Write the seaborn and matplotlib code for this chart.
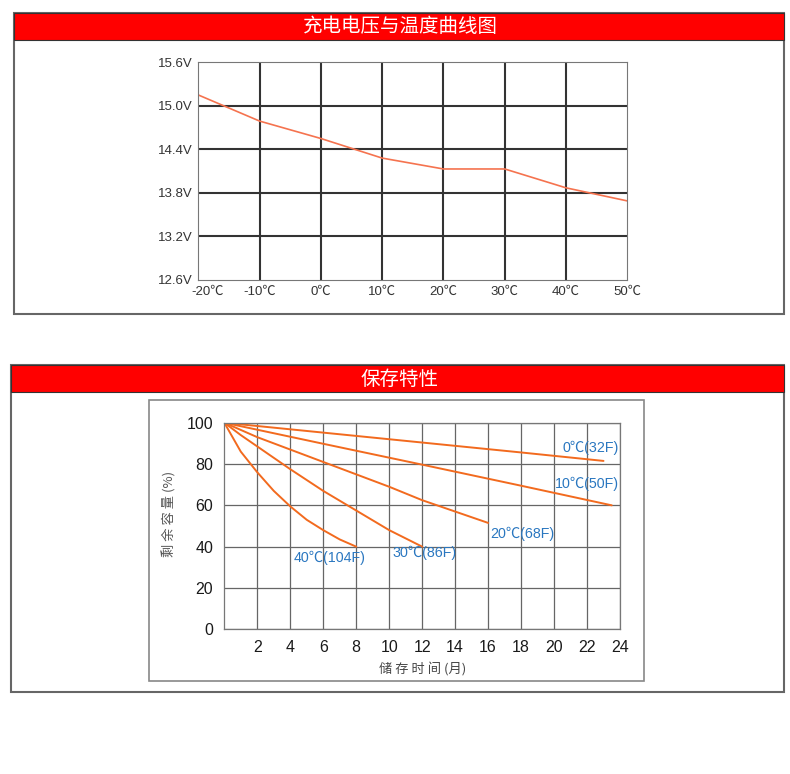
import numpy as np
import pandas as pd
import matplotlib
matplotlib.use("Agg")
import matplotlib.pyplot as plt
import matplotlib.transforms as mtransforms
import seaborn as sns
from matplotlib.patches import Rectangle

sns.set_style("white")
plt.rcParams['font.family'] = ['Liberation Sans', 'Noto Sans CJK SC', 'DejaVu Sans']

# charge voltage vs temperature
temps = [-20, -10, 0, 10, 20, 30, 40, 50]
volts = [15.15, 14.79, 14.55, 14.28, 14.13, 14.13, 13.87, 13.69]
temp_labels = ['-20℃', '-10℃', '0℃', '10℃', '20℃', '30℃', '40℃', '50℃']
volt_ticks = [12.6, 13.2, 13.8, 14.4, 15.0, 15.6]
volt_labels = ['12.6V', '13.2V', '13.8V', '14.4V', '15.0V', '15.6V']

# storage characteristics (remaining capacity vs months)
m_0 = [0, 6, 12, 18, 23]
c_0 = [100, 95.2, 90.4, 85.6, 81.5]
m_10 = [0, 6, 12, 18, 23.5]
c_10 = [100, 89.8, 79.7, 69.5, 60]
m_20 = [0, 2, 4, 6, 8, 10, 12, 14, 16]
c_20 = [100, 93, 87, 81, 75, 69, 62.5, 57, 51.5]
m_30 = [0, 1, 2, 4, 6, 8, 10, 12]
c_30 = [100, 94, 88.5, 77.5, 67, 57.5, 48, 40]
m_40 = [0, 1, 2, 3, 4, 5, 6, 7, 8]
c_40 = [100, 86, 76, 67, 59.5, 53, 48, 43.5, 40]
curve_labels = ['0℃(32F)', '10℃(50F)', '20℃(68F)', '30℃(86F)', '40℃(104F)']
label_pos = [(20.5, 87.9), (20.05, 70.3), (16.15, 46.1), (10.17, 36.9), (4.22, 34.7)]

W, H = 790, 774
fig = plt.figure(figsize=(W / 100, H / 100), dpi=100, facecolor='white')
CJK = ['Noto Sans CJK SC', 'DejaVu Sans']


def px_axes(x0, y0, x1, y1):
    return fig.add_axes([x0 / W, 1 - y1 / H, (x1 - x0) / W, (y1 - y0) / H])


def px_rect(x0, y0, x1, y1, **kw):
    r = Rectangle((x0 / W, 1 - y1 / H), (x1 - x0) / W, (y1 - y0) / H,
                  transform=fig.transFigure, **kw)
    fig.add_artist(r)


# panel frames and red headers
px_rect(14, 13, 784, 314, fill=False, ec='#666666', lw=1.5)
px_rect(14, 13, 784, 40, fc='#ff0000', ec='#333333', lw=0.8)
fig.text(400 / W, 1 - 27 / H, '充电电压与温度曲线图', color='white', fontsize=14,
         ha='center', va='center', family=CJK)

px_rect(11, 365, 784, 692, fill=False, ec='#666666', lw=1.5)
px_rect(11, 365, 784, 392, fc='#ff0000', ec='#333333', lw=0.8)
fig.text(400 / W, 1 - 379 / H, '保存特性', color='white', fontsize=14,
         ha='center', va='center', family=CJK)

px_rect(149, 400, 644, 681, fill=False, ec='#888888', lw=1.2)

# top chart
ax1 = px_axes(198.3, 62.3, 627.3, 280)
df1 = pd.DataFrame({'t': temps, 'v': volts})
sns.lineplot(data=df1, x='t', y='v', ax=ax1, color='#f5734f', lw=1.2)
ax1.set_xlim(-20, 50)
ax1.set_ylim(12.6, 15.6)
for t in temps[1:-1]:
    ax1.axvline(t, color='#333333', lw=1.5, zorder=0)
for v in volt_ticks[1:-1]:
    ax1.axhline(v, color='#333333', lw=1.5, zorder=0)
ax1.set_xticks(temps)
ax1.set_xticklabels(temp_labels)
ax1.set_yticks(volt_ticks)
ax1.set_yticklabels(volt_labels)
ax1.tick_params(length=0, labelsize=9.5, labelcolor='#333333')
ax1.tick_params(axis='y', pad=4)
ax1.tick_params(axis='x', pad=4)
# first x label sits to the right of the corner
first = ax1.get_xticklabels()[0]
first.set_transform(first.get_transform() +
                    mtransforms.ScaledTranslation(7 / 72, 0, fig.dpi_scale_trans))
ax1.set_xlabel('')
ax1.set_ylabel('')
for s in ax1.spines.values():
    s.set_color('#777777')
    s.set_linewidth(0.8)

# bottom chart
ax2 = px_axes(224.3, 422.7, 620, 629.3)
series = [(m_0, c_0), (m_10, c_10), (m_20, c_20), (m_30, c_30), (m_40, c_40)]
for (m, c) in series:
    sns.lineplot(x=m, y=c, ax=ax2, color='#f26a1e', lw=1.4)
for lab, (lx, ly) in zip(curve_labels, label_pos):
    ax2.text(lx, ly, lab, color='#2a77c0', fontsize=10.3, ha='left', va='center')
ax2.set_xlim(0, 24)
ax2.set_ylim(0, 100)
ax2.set_xticks(range(2, 25, 2))
ax2.set_yticks(range(0, 101, 20))
ax2.grid(True, color='#666666', lw=0.9)
ax2.set_axisbelow(True)
ax2.tick_params(length=0, labelsize=11.5, labelcolor='#1a1a1a', pad=8)
for s in ax2.spines.values():
    s.set_color('#777777')
    s.set_linewidth(0.9)
ax2.set_xlabel('储 存 时 间 (月)', fontsize=9.5, color='#444444', labelpad=5,
               family=CJK)
ax2.set_ylabel('剩 余 容 量 (%)', fontsize=9.5, color='#555555', labelpad=8,
               family=CJK)
ax2.yaxis.set_label_coords(-0.145, 0.56)
ax2.yaxis.label.set_position((-0.12, 0.56))
ax2.yaxis.set_label_coords(-0.12, 0.56)

fig.savefig('out.png', dpi=100, facecolor='white')
